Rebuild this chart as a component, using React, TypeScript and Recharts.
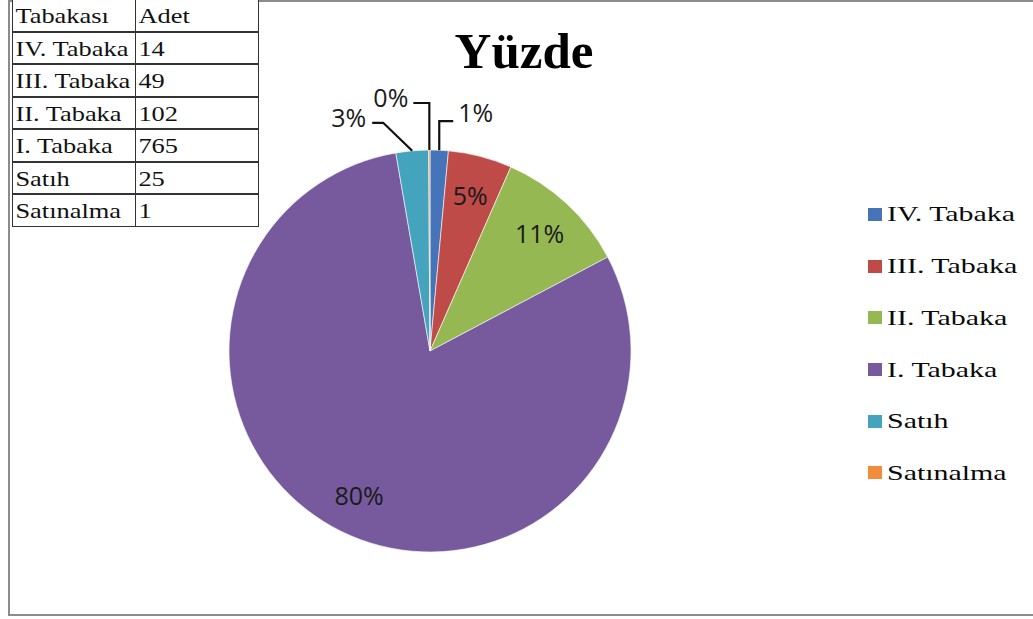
import React from 'react';
import { PieChart, Pie, Cell, Legend } from 'recharts';

const categories = ['IV. Tabaka', 'III. Tabaka', 'II. Tabaka', 'I. Tabaka', 'Satıh', 'Satınalma'];
const counts = [14, 49, 102, 765, 25, 1];
const colors = ['#4574B8', '#BE4B48', '#95B853', '#765A9D', '#44A4BE', '#F08C3C'];
const tableHeaders = ['Tabakası', 'Adet'];
const title = 'Yüzde';

// label placement: inside the slice or outside with an elbow leader line
const labelInside = [false, true, true, true, false, false];
// leader-line elbows relative to the slice's outer mid point: [x1, y1, x2, y2, textDx, textDy, textAnchor]
const leaders: Record<number, [number, number, number, number, number, number, string]> = {
  0: [0, -29, 14, -29, 19, -38, 'start'],
  4: [-29, -28, -40, -28, -46, -34, 'end'],
  5: [0, -47, -16, -47, -21, -53, 'end'],
};

const data = categories.map((name, i) => ({ name, value: counts[i] }));

const RAD = Math.PI / 180;
const labelFont = '"Open Sans", "Noto Sans", sans-serif';
const serif = '"Liberation Serif", "DejaVu Serif", serif';

const renderLabel = (props: any) => {
  const { cx, cy, midAngle, outerRadius, percent, index } = props;
  const txt = `${Math.round(percent * 100)}%`;
  if (labelInside[index]) {
    const r = outerRadius * 0.8;
    const x = cx + r * Math.cos(-midAngle * RAD);
    const y = cy + r * Math.sin(-midAngle * RAD);
    return (
      <text x={x} y={y} textAnchor="middle" dominantBaseline="central" fill="#1a1a1a"
        style={{ fontFamily: labelFont, fontSize: 25 }}>{txt}</text>
    );
  }
  const ax = cx + outerRadius * Math.cos(-midAngle * RAD);
  const ay = cy + outerRadius * Math.sin(-midAngle * RAD);
  const [x1, y1, x2, y2, tdx, tdy, anchor] = leaders[index];
  return (
    <g>
      <polyline points={`${ax},${ay} ${ax + x1},${ay + y1} ${ax + x2},${ay + y2}`} fill="none" stroke="#111" strokeWidth={2.2} />
      <text x={ax + tdx} y={ay + tdy} textAnchor={anchor as any} dominantBaseline="central" fill="#1a1a1a"
        style={{ fontFamily: labelFont, fontSize: 25 }}>{txt}</text>
    </g>
  );
};

const renderLegend = () => (
  <div>
    {categories.map((name, i) => (
      <div key={name} style={{ height: 51.7, display: 'flex', alignItems: 'center' }}>
        <span style={{ width: 14, height: 13, background: colors[i], display: 'inline-block', marginRight: 5 }} />
        <span style={{ display: 'inline-block', fontFamily: serif, fontSize: 22, color: '#0a0a0a', transform: 'scaleX(1.36)', transformOrigin: 'left center', whiteSpace: 'nowrap' }}>{name}</span>
      </div>
    ))}
  </div>
);

const rowH = 32.5;
const colX = [12, 136, 260];

export default function App() {
  const rows = [tableHeaders, ...categories.map((c, i) => [c, String(counts[i])])];
  return (
    <div style={{ position: 'absolute', left: 0, top: 0, width: 1033, height: 619, overflow: 'hidden', background: '#fff' }}>
      <div style={{ position: 'absolute', left: 8, top: 0, width: 1060, height: 616, border: '2px solid #8c8c8c', boxSizing: 'border-box' }} />
      <div style={{ position: 'absolute', left: 0, top: 0 }}>
        <PieChart width={1033} height={619} margin={{ top: 0, right: 0, bottom: 0, left: 0 }}>
          <Pie data={data} dataKey="value" nameKey="name" cx={430} cy={351} outerRadius={201}
            startAngle={90} endAngle={-270} isAnimationActive={false} label={renderLabel} labelLine={false}
            stroke="#ffffff" strokeWidth={0.6}>
            {data.map((d, i) => <Cell key={d.name} fill={colors[i]} />)}
          </Pie>
          <Legend content={renderLegend} wrapperStyle={{ position: 'absolute', left: 868, top: 188.6, width: 165 }} />
        </PieChart>
      </div>
      <div style={{ position: 'absolute', left: 0, top: 33, width: 1052, textAlign: 'center', fontFamily: serif, fontWeight: 'bold', fontSize: 51, lineHeight: '51px', color: '#000', pointerEvents: 'none' }}>
        <span style={{ position: 'absolute', left: 524, transform: 'translateX(-50%)', top: -7 }}>{title}</span>
      </div>
      <div style={{ position: 'absolute', left: 0, top: 0 }}>
        {rows.map((r, ri) => r.map((cell, ci) => (
          <div key={`${ri}-${ci}`} style={{
            position: 'absolute', left: colX[ci], top: ri * rowH - 1, width: colX[ci + 1] - colX[ci], height: rowH,
            border: '1px solid #333', boxSizing: 'border-box', marginLeft: ci > 0 ? -1 : 0,
            fontFamily: serif, fontSize: 22, lineHeight: `${rowH}px`, color: '#111', overflow: 'visible', whiteSpace: 'nowrap', background: '#fff'
          }}>
            <span style={{ display: 'inline-block', paddingLeft: 2, transform: 'scaleX(1.2)', transformOrigin: 'left center' }}>{cell}</span>
          </div>
        )))}
      </div>
    </div>
  );
}
